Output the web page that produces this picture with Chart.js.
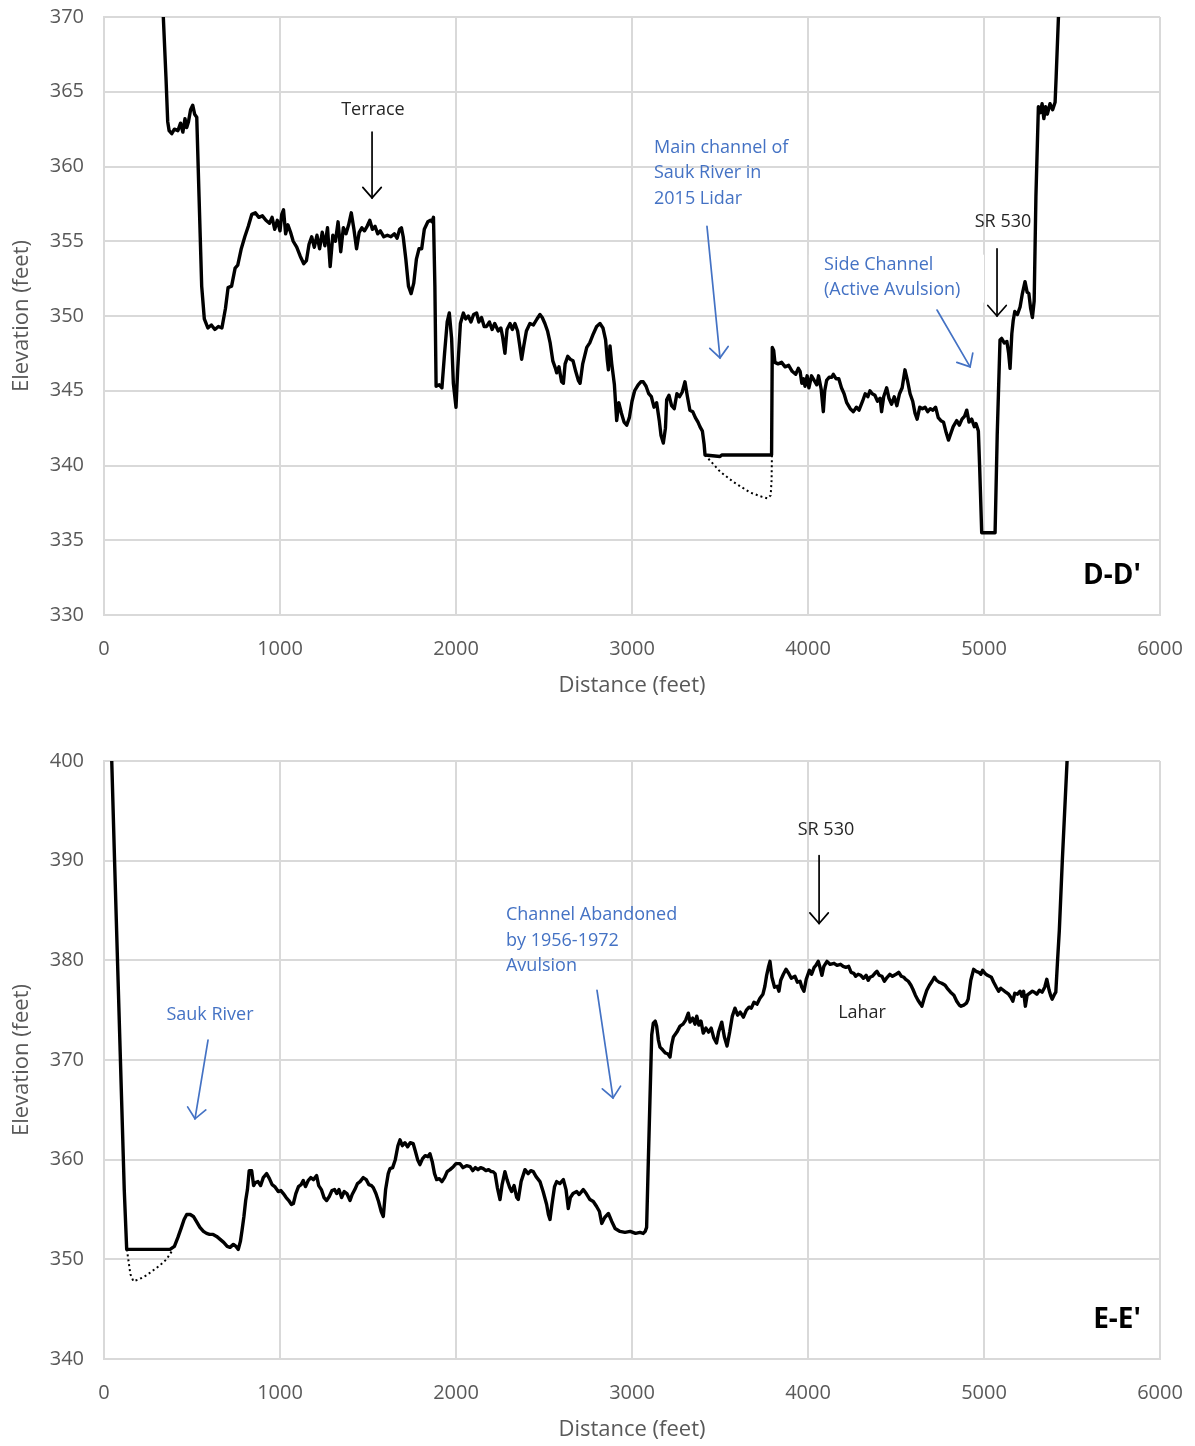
<!DOCTYPE html>
<html><head><meta charset="utf-8">
<script src="https://cdn.jsdelivr.net/npm/chart.js@4.4.1/dist/chart.umd.min.js"></script>
<style>
html,body{margin:0;padding:0;background:#fff;}
.wrap{position:absolute;left:0;width:1195px;height:723px;}
#w1{top:0}
#w2{top:723px}
canvas{display:block}
</style></head><body>
<div class="wrap" id="w1"><canvas id="c1" width="1195" height="723"></canvas></div>
<div class="wrap" id="w2"><canvas id="c2" width="1195" height="723"></canvas></div>
<script>
// ---------- D-D' profile ----------
const ddProfile = [
[337,370],[352,366],[362,363.0],[370,362.4],[385,362.2],[400,362.5],[420,362.4],[435,362.9],[448,362.3],[460,363.2],
[470,362.6],[480,363.0],[492,363.8],[504,364.1],[515,363.5],[527,363.3],[540,358],[555,352],[570,349.8],[590,349.2],
[610,349.4],[630,349.1],[650,349.3],[670,349.2],[690,350.5],[705,351.9],[725,352.0],[745,353.2],[760,353.4],[780,354.5],
[800,355.3],[820,356.0],[840,356.8],[860,356.9],[880,356.6],[900,356.7],[920,356.4],[940,356.2],[955,356.6],[970,355.8],
[985,356.4],[1000,355.7],[1010,356.8],[1020,357.1],[1032,355.5],[1045,356.1],[1060,355.6],[1075,355.0],[1095,354.6],[1115,354.0],
[1135,353.5],[1150,353.7],[1165,354.8],[1180,355.3],[1195,354.6],[1210,355.4],[1225,354.5],[1240,355.6],[1255,354.7],[1270,355.9],
[1285,353.3],[1300,355.4],[1315,355.0],[1330,356.3],[1345,354.3],[1360,355.9],[1375,355.5],[1390,356.1],[1405,356.9],[1420,355.8],
[1435,354.5],[1450,355.6],[1465,355.9],[1480,355.7],[1495,356.0],[1510,356.4],[1525,355.8],[1540,356.0],[1555,355.5],[1570,355.7],
[1590,355.3],[1610,355.4],[1630,355.3],[1650,355.5],[1665,355.2],[1680,355.8],[1690,355.9],[1700,355.3],[1715,353.8],[1730,352.0],
[1745,351.5],[1760,352.2],[1775,353.8],[1790,354.5],[1805,354.5],[1820,355.8],[1840,356.3],[1855,356.4],[1864,356.3],[1872,356.6],
[1880,352],[1887,345.3],[1905,345.4],[1920,345.2],[1935,347.5],[1950,349.6],[1962,350.2],[1975,348.5],[1985,345.5],[2000,343.9],
[2010,346.5],[2025,349.5],[2042,350.2],[2055,349.8],[2070,350.0],[2085,349.6],[2100,350.1],[2117,350.2],[2130,349.6],[2145,349.9],
[2160,349.3],[2174,349.3],[2190,349.6],[2205,349.1],[2220,349.5],[2240,349.0],[2255,349.2],[2265,348.6],[2278,347.5],[2290,349.1],
[2307,349.5],[2320,349.1],[2335,349.5],[2350,349.0],[2360,348.2],[2373,347.1],[2385,348.0],[2400,349.0],[2420,349.5],[2440,349.4],
[2460,349.8],[2477,350.1],[2490,349.9],[2505,349.5],[2520,349.0],[2535,348.2],[2550,347.0],[2565,346.5],[2572,346.2],[2585,346.6],
[2600,345.6],[2610,345.5],[2620,346.8],[2635,347.3],[2650,347.1],[2665,347.0],[2680,346.3],[2695,345.7],[2705,345.5],[2720,346.8],
[2743,347.9],[2760,348.2],[2780,348.8],[2799,349.3],[2818,349.5],[2835,349.2],[2850,348.4],[2860,347.0],[2866,346.4],[2875,348.0],
[2885,346.8],[2900,345.4],[2913,343.0],[2925,344.2],[2940,343.5],[2955,342.9],[2970,342.7],[2985,343.2],[3000,344.3],[3015,345.0],
[3035,345.4],[3050,345.6],[3064,345.6],[3080,345.3],[3095,344.8],[3110,344.6],[3125,343.9],[3140,344.2],[3155,343.0],[3165,342.0],
[3178,341.5],[3190,342.5],[3197,344.4],[3210,344.7],[3225,344.0],[3240,343.8],[3255,344.8],[3270,344.6],[3285,344.9],[3301,345.6],
[3315,344.6],[3329,343.7],[3345,343.6],[3360,343.2],[3375,342.9],[3386,342.6],[3400,342.3],[3410,341.4],[3415,340.7],[3500,340.6],
[3510,340.7],[3793,340.7],[3797,347.9],[3805,347.7],[3812,346.9],[3830,346.8],[3850,346.9],[3870,346.6],[3890,346.7],[3910,346.3],
[3930,346.1],[3945,346.5],[3955,346.3],[3965,345.5],[3975,345.8],[3983,345.3],[3995,346.0],[4005,345.2],[4020,346.0],[4035,345.7],
[4050,345.4],[4060,346.0],[4075,345.1],[4087,343.6],[4095,345.0],[4106,345.7],[4120,345.9],[4135,345.9],[4144,346.1],[4160,345.8],
[4175,345.8],[4190,345.2],[4205,344.8],[4220,344.2],[4240,343.8],[4258,343.6],[4275,343.9],[4290,343.7],[4310,344.3],[4325,344.8],
[4340,344.6],[4352,345.0],[4365,344.8],[4380,344.7],[4395,344.3],[4410,344.5],[4418,343.6],[4430,344.6],[4447,345.2],[4460,344.5],
[4475,344.1],[4490,344.6],[4505,344.0],[4520,344.8],[4535,345.2],[4551,346.4],[4565,345.7],[4580,344.8],[4595,344.3],[4608,343.5],
[4620,343.1],[4635,343.9],[4650,343.8],[4665,343.9],[4680,343.6],[4695,343.8],[4710,343.7],[4725,343.9],[4740,343.2],[4755,343.0],
[4770,342.9],[4785,342.2],[4798,341.7],[4810,342.1],[4825,342.6],[4845,343.0],[4860,342.7],[4875,343.1],[4890,343.3],[4902,343.7],
[4915,342.9],[4930,343.1],[4945,342.6],[4955,342.8],[4968,342.3],[4975,340.0],[4987,335.5],[5063,335.5],[5075,342],[5091,348.4],
[5100,348.5],[5115,348.2],[5130,348.3],[5140,347.5],[5148,346.5],[5158,348.8],[5166,349.7],[5175,350.3],[5190,350.1],[5205,350.6],
[5218,351.5],[5233,352.3],[5245,351.6],[5255,351.5],[5265,350.5],[5275,349.9],[5285,351.0],[5295,358],[5309,364.0],[5320,363.6],
[5330,364.2],[5340,363.2],[5350,364.0],[5360,363.5],[5375,364.2],[5390,363.8],[5404,364.3],[5410,366],[5423,370]
];
const ddChannel = [
[3415,340.7],[3500,339.6],[3576,338.9],[3670,338.2],[3740,337.9],[3770,337.8],[3788,338.0],[3793,339.0],[3795,340.7]
];

// ---------- E-E' profile ----------
const eeProfile = [
[44,400],[60,390],[80,378],[100,366],[115,357],[129,351.0],[375,351.0],[400,351.3],[420,352.2],[440,353.2],
[455,354.0],[470,354.5],[490,354.5],[508,354.3],[525,353.8],[545,353.2],[565,352.8],[583,352.6],[600,352.5],[620,352.5],
[640,352.3],[660,352.0],[680,351.7],[700,351.3],[716,351.2],[735,351.5],[750,351.3],[763,351.0],[775,351.8],[785,353.0],
[795,354.3],[805,355.9],[815,357.0],[825,358.9],[839,358.9],[850,357.4],[860,357.7],[875,357.8],[890,357.4],[905,358.2],
[924,358.6],[940,358.1],[955,357.5],[970,357.3],[990,356.8],[1005,356.9],[1019,356.6],[1035,356.2],[1050,355.9],[1065,355.5],
[1076,355.6],[1090,356.6],[1105,357.3],[1120,357.5],[1132,357.9],[1145,357.3],[1160,357.9],[1175,358.2],[1190,358.0],[1208,358.4],
[1220,357.4],[1235,357.0],[1250,356.2],[1265,355.9],[1280,356.3],[1295,356.9],[1310,357.0],[1322,356.6],[1335,357.0],[1350,356.2],
[1365,356.8],[1380,356.6],[1398,355.9],[1410,356.5],[1425,357.0],[1440,357.6],[1455,357.8],[1473,358.2],[1490,358.0],[1505,357.5],
[1520,357.4],[1530,357.2],[1545,356.6],[1560,355.8],[1575,354.8],[1587,354.3],[1600,357.0],[1615,358.6],[1625,359.1],[1640,359.2],
[1655,360.0],[1670,361.4],[1682,362.0],[1695,361.4],[1710,361.7],[1725,361.3],[1740,361.7],[1757,361.6],[1770,360.8],[1782,360.0],
[1795,359.5],[1810,360.1],[1825,360.4],[1840,360.3],[1852,360.6],[1865,359.8],[1878,358.6],[1890,358.0],[1905,358.1],[1920,357.8],
[1935,358.2],[1950,358.8],[1966,359.0],[1985,359.3],[2000,359.6],[2023,359.6],[2040,359.2],[2060,359.4],[2080,359.3],[2095,358.9],
[2110,359.2],[2125,359.0],[2140,359.2],[2155,359.1],[2170,358.9],[2185,359.0],[2200,358.8],[2210,358.8],[2222,358.6],[2235,357.2],
[2250,356.0],[2262,357.5],[2278,358.8],[2290,358.0],[2305,357.2],[2316,356.8],[2330,357.4],[2345,356.2],[2354,356.0],[2370,357.8],
[2392,359.0],[2410,358.6],[2425,358.9],[2439,358.8],[2455,358.3],[2477,357.8],[2495,356.8],[2515,355.5],[2525,354.5],[2534,354.0],
[2545,355.5],[2560,357.3],[2572,357.8],[2590,357.6],[2610,358.0],[2625,357.0],[2638,355.1],[2650,356.2],[2665,356.6],[2686,356.8],
[2700,356.5],[2723,357.0],[2740,356.6],[2761,356.0],[2780,355.8],[2799,355.3],[2815,354.8],[2828,353.6],[2845,354.2],[2866,354.6],
[2885,353.8],[2904,353.1],[2932,352.8],[2960,352.7],[2990,352.8],[3020,352.6],[3045,352.7],[3064,352.6],[3075,352.8],[3083,353.2],
[3090,358],[3102,366.0],[3112,372.5],[3121,373.7],[3132,373.9],[3140,373.4],[3150,372.0],[3159,371.3],[3175,371.0],[3190,370.7],
[3205,370.6],[3216,370.3],[3225,371.5],[3235,372.3],[3255,372.8],[3273,373.4],[3290,373.6],[3305,374.0],[3320,374.7],[3330,373.8],
[3345,374.2],[3358,373.6],[3368,374.4],[3380,373.5],[3392,373.9],[3405,372.7],[3420,373.2],[3435,372.8],[3450,373.2],[3465,372.2],
[3480,371.7],[3492,372.8],[3510,373.8],[3525,372.3],[3540,371.4],[3555,372.8],[3570,374.4],[3585,375.2],[3600,374.5],[3615,374.8],
[3633,374.3],[3650,375.0],[3665,375.3],[3678,375.2],[3693,375.8],[3710,375.6],[3727,376.2],[3744,376.6],[3755,377.4],[3765,378.5],
[3775,379.3],[3784,379.9],[3795,378.3],[3810,377.3],[3825,377.4],[3835,376.9],[3845,378.0],[3860,378.6],[3875,379.1],[3890,378.7],
[3905,378.2],[3926,378.4],[3940,377.8],[3955,377.9],[3965,377.3],[3977,376.9],[3990,378.1],[4008,379.0],[4020,378.6],[4035,379.3],
[4045,379.5],[4058,379.9],[4068,379.3],[4079,378.5],[4090,379.4],[4108,379.9],[4125,379.6],[4148,379.7],[4165,379.5],[4185,379.6],
[4200,379.4],[4215,379.3],[4231,379.4],[4245,378.8],[4260,378.7],[4271,378.4],[4285,378.6],[4300,378.5],[4315,378.2],[4330,378.5],
[4342,378.0],[4352,378.3],[4365,378.4],[4380,378.7],[4392,378.9],[4405,378.5],[4420,378.4],[4434,377.9],[4450,378.3],[4465,378.6],
[4480,378.4],[4500,378.6],[4515,378.8],[4530,378.4],[4545,378.3],[4555,378.1],[4570,377.9],[4585,377.5],[4596,377.1],[4610,376.5],
[4625,376.0],[4640,375.6],[4647,375.4],[4660,376.2],[4675,377.0],[4690,377.5],[4705,377.9],[4718,378.3],[4730,378.0],[4745,377.8],
[4760,377.7],[4779,377.5],[4795,377.1],[4810,376.8],[4829,376.5],[4845,375.9],[4860,375.5],[4870,375.4],[4885,375.5],[4900,375.7],
[4910,376.1],[4925,378.0],[4941,379.1],[4955,378.9],[4970,378.8],[4982,378.6],[4992,379.0],[5005,378.7],[5020,378.5],[5042,378.3],
[5055,377.8],[5070,377.3],[5083,376.9],[5095,377.2],[5110,377.0],[5124,376.8],[5140,376.6],[5152,376.3],[5164,375.9],[5175,376.7],
[5190,376.6],[5205,376.9],[5215,376.4],[5225,376.9],[5235,375.4],[5245,376.5],[5260,376.7],[5275,376.9],[5286,376.8],[5300,376.6],
[5315,377.0],[5330,376.8],[5345,377.3],[5357,378.1],[5370,377.0],[5380,376.4],[5387,376.1],[5398,376.5],[5408,376.8],[5418,380],
[5428,383.0],[5445,390],[5472,400]
];
const eeChannel = [
[130,351.0],[138,350.0],[150,348.5],[167,347.8],[200,348.0],[242,348.4],[280,348.9],[318,349.4],[355,350.0],[385,350.8]
];

// ---------- axes ----------
const xAxisRange = [0, 6000, 1000];
const ddYRange = [330, 370, 5];
const eeYRange = [340, 400, 10];
const xTitle = 'Distance (feet)';
const yTitle = 'Elevation (feet)';

// ---------- annotations (data coordinates) ----------
const ddTexts = [
  {lines:['Terrace'], x:1528, y:[363.8], color:'#262626', align:'center'},
  {lines:['Main channel of','Sauk River in','2015 Lidar'], x:3125, y:[361.25,359.55,357.85], color:'#4472C4', align:'left'},
  {lines:['SR 530'], x:5108, y:[356.3], color:'#262626', align:'center'},
  {lines:['Side Channel','(Active Avulsion)'], x:4091, y:[353.4,351.75], color:'#4472C4', align:'left', box:[4005,5000,354.1,350.9]}
];
const ddArrows = [
  {from:[1523,362.3], to:[1523,357.9], color:'#000'},
  {from:[3426,356.0], to:[3500,347.2], color:'#4472C4'},
  {from:[5074,354.5], to:[5074,350.0], color:'#000'},
  {from:[4733,350.4], to:[4921,346.6], color:'#4472C4'}
];
const ddLabel = {text:"D-D'", x:5892, y:332.6};

const eeTexts = [
  {lines:['SR 530'], x:4102, y:[393.1], color:'#262626', align:'center'},
  {lines:['Channel Abandoned','by 1956-1972','Avulsion'], x:2284, y:[384.55,381.95,379.45], color:'#4472C4', align:'left'},
  {lines:['Sauk River'], x:602, y:[374.5], color:'#4472C4', align:'center'},
  {lines:['Lahar'], x:4307, y:[374.7], color:'#262626', align:'center'}
];
const eeArrows = [
  {from:[4063,390.5], to:[4063,383.7], color:'#000'},
  {from:[2801,377.0], to:[2892,366.2], color:'#4472C4'},
  {from:[591,372.0], to:[517,364.1], color:'#4472C4'}
];
const eeLabel = {text:"E-E'", x:5892, y:343.9};

const FONT = "'Open Sans', 'Noto Sans', sans-serif";
Chart.defaults.font.family = FONT;

function annotPlugin(texts, arrows, label) {
  return {
    id: 'annot',
    afterDatasetsDraw(chart) {
      const ctx = chart.ctx, xs = chart.scales.x, ys = chart.scales.y;
      ctx.save();
      texts.forEach(t => {
        if (t.box) {
          ctx.fillStyle = '#fff';
          const x0 = xs.getPixelForValue(t.box[0]), x1 = xs.getPixelForValue(t.box[1]);
          const y0 = ys.getPixelForValue(t.box[2]), y1 = ys.getPixelForValue(t.box[3]);
          ctx.fillRect(x0, y0, x1 - x0, y1 - y0);
        }
      });
      texts.forEach(t => {
        ctx.font = '18px ' + FONT;
        ctx.fillStyle = t.color;
        ctx.textAlign = t.align;
        ctx.textBaseline = 'middle';
        t.lines.forEach((ln, i) => ctx.fillText(ln, xs.getPixelForValue(t.x), ys.getPixelForValue(t.y[i])));
      });
      arrows.forEach(a => {
        const x0 = xs.getPixelForValue(a.from[0]), y0 = ys.getPixelForValue(a.from[1]);
        const x1 = xs.getPixelForValue(a.to[0]), y1 = ys.getPixelForValue(a.to[1]);
        ctx.strokeStyle = a.color; ctx.lineWidth = 1.7; ctx.lineCap = 'round';
        ctx.beginPath(); ctx.moveTo(x0, y0); ctx.lineTo(x1, y1); ctx.stroke();
        const ang = Math.atan2(y1 - y0, x1 - x0), L = 14, sp = 0.72;
        ctx.beginPath();
        ctx.moveTo(x1 - L * Math.cos(ang - sp), y1 - L * Math.sin(ang - sp));
        ctx.lineTo(x1, y1);
        ctx.lineTo(x1 - L * Math.cos(ang + sp), y1 - L * Math.sin(ang + sp));
        ctx.stroke();
      });
      ctx.font = 'bold 28px ' + FONT;
      ctx.fillStyle = '#000';
      ctx.textAlign = 'right';
      ctx.textBaseline = 'middle';
      ctx.fillText(label.text, xs.getPixelForValue(label.x), ys.getPixelForValue(label.y));
      ctx.restore();
    }
  };
}

function toPts(arr) { return arr.map(p => ({x: p[0], y: p[1]})); }

function zeroPad(s) { s.paddingTop = 0; s.paddingBottom = 0; s.paddingLeft = 0; s.paddingRight = 0; }

function makeChart(id, profile, channel, yRange, padding, texts, arrows, label) {
  const grid = {color: '#d9d9d9', lineWidth: 2, drawTicks: false};
  const border = {display: true, color: '#d9d9d9', width: 2};
  return new Chart(document.getElementById(id), {
    type: 'line',
    data: {
      datasets: [
        {data: toPts(profile), borderColor: '#000', borderWidth: 3.4, pointRadius: 0, tension: 0, borderJoinStyle: 'round', fill: false},
        {data: toPts(channel), borderColor: '#000', borderWidth: 2, borderDash: [2, 3], pointRadius: 0, tension: 0, fill: false}
      ]
    },
    options: {
      responsive: false,
      animation: false,
      events: [],
      layout: {padding: padding},
      plugins: {legend: {display: false}, tooltip: {enabled: false}},
      scales: {
        x: {
          type: 'linear', min: xAxisRange[0], max: xAxisRange[1],
          ticks: {stepSize: xAxisRange[2], color: '#595959', font: {size: 20}, padding: 22, callback: v => String(v), maxRotation: 0},
          grid: grid, border: border,
          title: {display: true, text: xTitle, color: '#595959', font: {size: 22}, padding: 0},
          afterFit(s) { s.height = 84; zeroPad(s); }
        },
        y: {
          type: 'linear', min: yRange[0], max: yRange[1],
          ticks: {stepSize: yRange[2], color: '#595959', font: {size: 20}, padding: 20, callback: v => String(v)},
          grid: grid, border: border,
          title: {display: true, text: yTitle, color: '#595959', font: {size: 22}, padding: 0},
          afterFit(s) { s.width = 95; zeroPad(s); }
        }
      }
    },
    plugins: [annotPlugin(texts, arrows, label)]
  });
}

makeChart('c1', ddProfile, ddChannel, ddYRange, {top: 17, right: 35, bottom: 24, left: 9}, ddTexts, ddArrows, ddLabel);
makeChart('c2', eeProfile, eeChannel, eeYRange, {top: 38, right: 35, bottom: 3, left: 9}, eeTexts, eeArrows, eeLabel);
</script>
</body></html>
